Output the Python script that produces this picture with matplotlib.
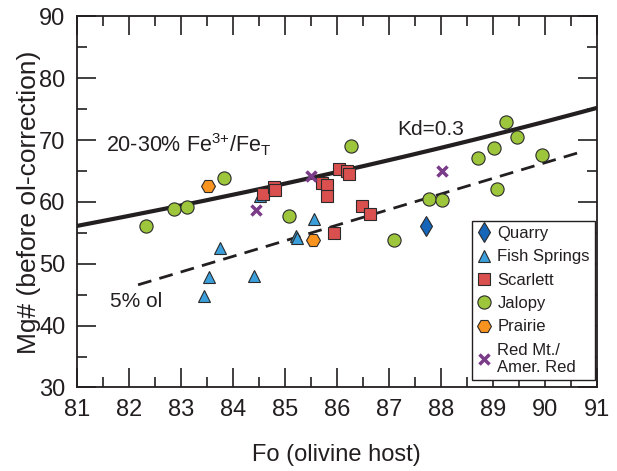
import numpy as np
import matplotlib
matplotlib.use('Agg')
import matplotlib.pyplot as plt
from matplotlib.ticker import MultipleLocator

plt.rcParams['font.family'] = ['Liberation Sans', 'DejaVu Sans']
plt.rcParams['mathtext.fontset'] = 'custom'
plt.rcParams['mathtext.rm'] = 'Liberation Sans'
plt.rcParams['mathtext.it'] = 'Liberation Sans:italic'
plt.rcParams['mathtext.bf'] = 'Liberation Sans:bold'

INK = '#231f20'

# olivine host Fo vs melt Mg#, por localidad
quarry_fo = [87.72]
quarry_mg = [56.16]

fish_fo = [83.76, 83.55, 83.44, 84.41, 84.52, 85.57, 85.22, 85.24]
fish_mg = [52.54, 47.94, 44.81, 48.06, 60.91, 57.29, 54.54, 54.17]

scarlett_fo = [84.59, 84.79, 84.81, 85.71, 85.82, 85.82, 86.05, 86.20, 86.24,
               86.48, 86.64, 85.95]
scarlett_mg = [61.30, 62.43, 61.99, 63.08, 62.80, 60.91, 65.40, 65.07, 64.54,
               59.40, 58.06, 54.98]

jalopy_fo = [82.33, 82.88, 83.13, 83.84, 85.08, 86.27, 87.10, 87.78, 88.02,
             89.08, 88.72, 89.03, 89.26, 89.46, 89.94]
jalopy_mg = [56.05, 58.91, 59.24, 63.82, 57.67, 69.01, 53.78, 60.53, 60.37,
             62.16, 67.13, 68.75, 72.97, 70.53, 67.55]

prairie_fo = [83.53, 85.54]
prairie_mg = [62.53, 53.89]

redmt_fo = [84.45, 85.51, 88.02]
redmt_mg = [58.64, 64.26, 64.96]

# equilibrio olivino-liquido
kd = 0.3
# linea de 5% olivino (extremos)
ol5_fo = [82.18, 90.74]
ol5_mg = [46.6, 68.2]

fig = plt.figure(figsize=(6.17, 4.71), dpi=100)
ax = fig.add_axes([0.1243, 0.1773, 0.8428, 0.7877])

# curva Kd
fo = np.linspace(81, 91, 200)
fe_mg_ol = (100 - fo) / fo
mg_liq = 100 / (1 + fe_mg_ol / kd)
ax.plot(fo, mg_liq, color=INK, lw=3.0, zorder=2)

ax.plot(ol5_fo, ol5_mg, color=INK, lw=2.0, dashes=(5, 3), zorder=2)

edge = '#2a2a2a'
ax.plot(quarry_fo, quarry_mg, ls='none', marker='d', ms=10, mfc='#1565b8',
        mec=edge, mew=0.8, label='Quarry', zorder=4)
ax.plot(fish_fo, fish_mg, ls='none', marker='^', ms=8.5, mfc='#3a9fda',
        mec=edge, mew=0.8, label='Fish Springs', zorder=4)
ax.plot(scarlett_fo, scarlett_mg, ls='none', marker='s', ms=8.5, mfc='#d9504f',
        mec=edge, mew=0.8, label='Scarlett', zorder=4)
ax.plot(jalopy_fo, jalopy_mg, ls='none', marker='o', ms=9.5, mfc='#9dc63c',
        mec=edge, mew=0.8, label='Jalopy', zorder=4)
ax.plot(prairie_fo, prairie_mg, ls='none', marker='H', ms=10, mfc='#f7931e',
        mec=edge, mew=0.8, label='Prairie', zorder=4)
ax.plot(redmt_fo, redmt_mg, ls='none', marker='x', ms=7.5, mec='#7a3b88',
        mew=2.5, label='Red Mt./\nAmer. Red', zorder=4)

ax.text(81.57, 68.04, r'20-30% Fe$^{3\text{+}}$/Fe$_\mathrm{T}$', fontsize=15.5,
        color=INK, ha='left', va='baseline')
ax.text(87.17, 70.9, 'Kd=0.3', fontsize=15, color=INK, ha='left', va='baseline')
ax.text(81.65, 43.08, '5% ol', fontsize=15, color=INK, ha='left', va='baseline')

ax.set_xlim(81, 91)
ax.set_ylim(30, 90)
ax.xaxis.set_major_locator(MultipleLocator(1))
ax.xaxis.set_minor_locator(MultipleLocator(0.5))
ax.yaxis.set_major_locator(MultipleLocator(10))
ax.yaxis.set_minor_locator(MultipleLocator(5))
ax.tick_params(which='both', direction='in', top=True, right=True,
               width=1.2, colors=INK, labelsize=17, pad=8)
ax.tick_params(which='major', length=14)
ax.tick_params(which='minor', length=7)
for sp in ax.spines.values():
    sp.set_linewidth(1.3)
    sp.set_color(INK)

ax.set_xlabel('Fo (olivine host)', fontsize=17, color=INK, labelpad=17)
ax.set_ylabel('Mg# (before ol-correction)', fontsize=19, color=INK, labelpad=-1)

leg = ax.legend(loc='lower right', bbox_to_anchor=(0.9967, 0.02), fontsize=12,
                frameon=True, fancybox=False, handlelength=0.8,
                handletextpad=0.4, labelspacing=0.5, borderpad=0.3,
                borderaxespad=0.0, numpoints=1)
leg.get_frame().set_edgecolor(INK)
leg.get_frame().set_linewidth(1.0)
leg.get_frame().set_facecolor('white')
leg.get_frame().set_alpha(1.0)
leg.set_zorder(10)
for t in leg.get_texts():
    t.set_color(INK)

fig.savefig('out.png', dpi=100)
